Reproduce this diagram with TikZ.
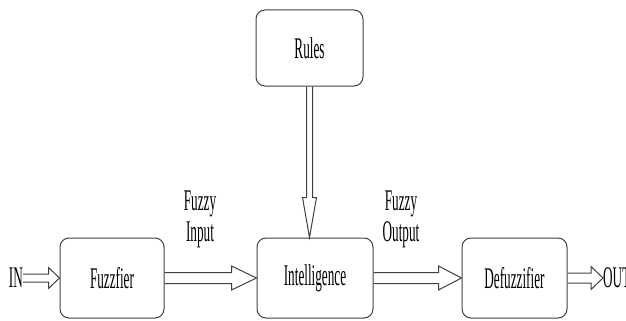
\documentclass[tikz,border=0pt]{standalone}
\usepackage{fontspec}
\newfontfamily\narrowserif[FakeStretch=0.44]{Liberation Serif}
\usetikzlibrary{calc}
\begin{document}
\begin{tikzpicture}[
	x=1pt, y=-1pt,
	every node/.style={ font=\narrowserif\fontsize{30}{31}\selectfont },
	block/.style={ draw=black!75, line width=1pt, rounded corners=9pt, inner sep=0pt, minimum height=80pt },
	lbl/.style={ inner sep=0pt, align=center },
	hollow/.style n args={3}{ draw=black!75, line width=1pt, line join=miter, to path={
		($(\tikztostart)!#1!90:(\tikztotarget)$) -- ($(\tikztotarget)!#3!(\tikztostart)!#1!90:(\tikztotarget)$)
		-- ($(\tikztotarget)!#3!(\tikztostart)!#2!90:(\tikztotarget)$) -- (\tikztotarget)
		-- ($(\tikztotarget)!#3!(\tikztostart)!#2!-90:(\tikztotarget)$)
		-- ($(\tikztotarget)!#3!(\tikztostart)!#1!-90:(\tikztotarget)$)
		-- ($(\tikztostart)!#1!-90:(\tikztotarget)$) }
	}
]
\useasboundingbox (0,0) rectangle (626,321);

\node at (112,278) (fuzz) [block, minimum width=104pt] {Fuzzfier};
\node at (315,278) (intel) [block, minimum width=116pt] {Intelligence};
\node at (514.5,278) (defuzz) [block, minimum width=105pt] {Defuzzifier};
\node at (309.5,48) (rules) [block, minimum width=107pt, minimum height=76pt] {Rules};

\node at (23,278) (in) [lbl, anchor=east] {IN};
\node at (603,278) (out) [lbl, anchor=west] {OUT};
\node at (200,219) (fin) [lbl] {Fuzzy\\Input};
\node at (401,219) (fout) [lbl] {Fuzzy\\Output};

\coordinate (rulesin) at (rules.south |- intel.north);

\draw[hollow={4pt}{10.5pt}{11pt}] (in.east) to (fuzz.west);
\draw[hollow={5.5pt}{12pt}{25pt}] (fuzz.east) to (intel.west);
\draw[hollow={5.5pt}{12pt}{23pt}] (intel.east) to (defuzz.west);
\draw[hollow={5pt}{11.5pt}{12pt}] (defuzz.east) to (out.west);
\draw[hollow={3pt}{7pt}{40pt}] (rules.south) to (rulesin);

\end{tikzpicture}
\end{document}
